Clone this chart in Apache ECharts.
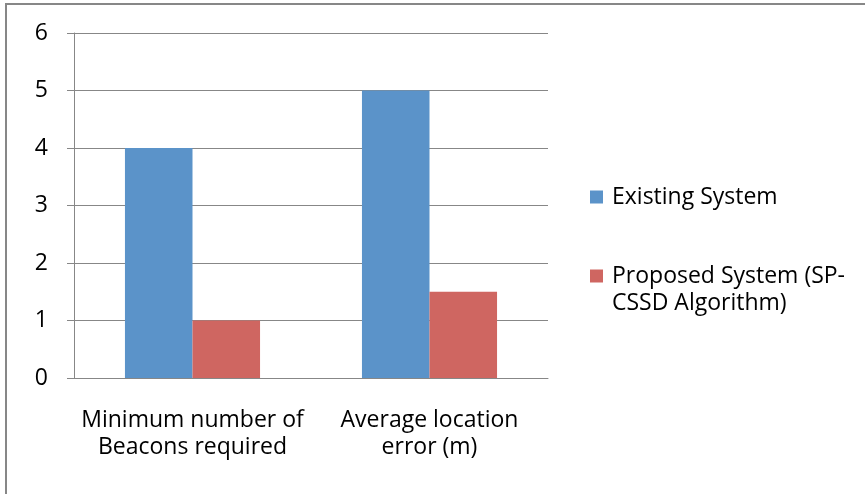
<!DOCTYPE html>
<html>
<head>
<meta charset="utf-8">
<script src="https://cdn.jsdelivr.net/npm/echarts@6/dist/echarts.min.js"></script>
<style>
  html, body { margin: 0; padding: 0; background: #fff; }
  #chart { width: 865px; height: 494px; }
</style>
</head>
<body>
<div id="chart"></div>
<script>
// donnees du graphique
const categories = ['Minimum number of\nBeacons required', 'Average location\nerror (m)'];
const existingValues = [4, 5];
const proposedValues = [1, 1.5];
const seriesNames = ['Existing System', 'Proposed System (SP-CSSD Algorithm)'];
const yTicks = [0, 1, 2, 3, 4, 5, 6];

const font = '"Open Sans", sans-serif';
const grey = '#878787';

let chart = echarts.init(document.getElementById('chart'));

let options = {
    animation: false,
    grid: { left: 74, right: 317, top: 33, bottom: 116 },
    legend: {
        orient: 'vertical',
        left: 585,
        top: 179,
        itemWidth: 13,
        itemHeight: 13,
        itemGap: 53,
        icon: 'rect',
        data: seriesNames,
        // la 2e ligne du nom est posee a part (graphic) pour garder le carre sur la 1re ligne
        formatter: name => name === seriesNames[1] ? 'Proposed System (SP-' : name,
        textStyle: { fontFamily: font, fontSize: 23, lineHeight: 26, color: '#000', padding: [0, 0, 0, 4] }
    },
    graphic: [
        { type: 'line', shape: { x1: 5, y1: 4, x2: 865, y2: 4 }, style: { stroke: grey, lineWidth: 2 } },
        { type: 'line', shape: { x1: 6, y1: 3, x2: 6, y2: 494 }, style: { stroke: grey, lineWidth: 2 } },
        {
            type: 'text', x: 612, y: 303,
            style: { text: 'CSSD Algorithm)', font: '23px ' + font, fill: '#000', verticalAlign: 'middle' }
        }
    ],
    xAxis: {
        type: 'category',
        data: categories,
        axisLine: { lineStyle: { color: grey } },
        axisTick: { length: 7, lineStyle: { color: grey } },
        axisLabel: { fontFamily: font, fontSize: 23, color: '#000', margin: 29, lineHeight: 27, interval: 0 }
    },
    yAxis: {
        type: 'value',
        min: yTicks[0],
        max: yTicks[yTicks.length - 1],
        interval: 1,
        axisLine: { show: true, lineStyle: { color: grey } },
        axisTick: { show: true, length: 7, lineStyle: { color: grey } },
        axisLabel: { fontFamily: font, fontSize: 23, color: '#000', margin: 26 },
        splitLine: { lineStyle: { color: grey } }
    },
    series: [
        {
            name: seriesNames[0], type: 'bar', data: existingValues,
            itemStyle: { color: '#5B93C9' },
            barGap: '0%', barCategoryGap: '43%'
        },
        {
            name: seriesNames[1], type: 'bar', data: proposedValues,
            itemStyle: { color: '#CF6661' },
            barGap: '0%', barCategoryGap: '43%'
        }
    ]
};

chart.setOption(options);
</script>
</body>
</html>
